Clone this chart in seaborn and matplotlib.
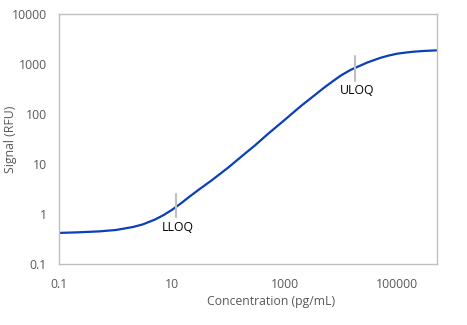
import matplotlib
matplotlib.use("Agg")
import matplotlib.pyplot as plt
import matplotlib.ticker as mticker
import seaborn as sns
import pandas as pd

# Data
concentration = [0.1, 0.2, 0.5, 1, 2, 3, 5, 7, 10, 15, 20, 30, 50, 70, 100, 150, 200, 300,
                 500, 700, 1000, 1500, 2000, 3000, 5000, 7000, 10000, 15000, 20000, 30000,
                 50000, 70000, 100000, 150000, 200000, 300000, 500000]
signal = [0.42, 0.43, 0.45, 0.48, 0.55, 0.62, 0.78, 0.95, 1.22, 1.7, 2.2, 3.1, 4.7, 6.3,
          8.6, 12.6, 16.5, 24, 40, 55, 77, 114, 150, 215, 340, 450, 600, 780, 900, 1100,
          1350, 1500, 1640, 1740, 1800, 1860, 1910]

loq_labels = ["LLOQ", "ULOQ"]
loq_x = [11.6, 17700]
loq_y_low = [0.88, 474]
loq_y_high = [2.57, 1480]

x_ticks = [0.1, 10, 1000, 100000]
y_ticks = [0.1, 1, 10, 100, 1000, 10000]

sns.set_theme(style="white")
plt.rcParams['font.family'] = ['Open Sans', 'DejaVu Sans']

df = pd.DataFrame({"Concentration": concentration, "Signal": signal})

fig = plt.figure(figsize=(4.67, 3.25), dpi=100)
ax = fig.add_axes([0.1274, 0.1877, 0.9347 - 0.1274, 0.9554 - 0.1877])

sns.lineplot(data=df, x="Concentration", y="Signal", ax=ax, color="#0B3FB8", linewidth=1.6)

ax.set_xscale("log")
ax.set_yscale("log")
ax.set_xlim(0.1, 500000)
ax.set_ylim(0.1, 10000)

# LLOQ / ULOQ markers
for lab, xv, ylo, yhi in zip(loq_labels, loq_x, loq_y_low, loq_y_high):
    ax.plot([xv, xv], [ylo, yhi], color="#BFBFBF", linewidth=1.5, zorder=3)
    ax.text(xv * 1.08, ylo * 0.84, lab, ha="center", va="top", fontsize=8.8, color="black")

ax.xaxis.set_major_locator(mticker.FixedLocator(x_ticks))
ax.yaxis.set_major_locator(mticker.FixedLocator(y_ticks))
ax.xaxis.set_minor_locator(mticker.NullLocator())
ax.yaxis.set_minor_locator(mticker.NullLocator())
fmt = mticker.FuncFormatter(lambda v, p: "%g" % v)
ax.xaxis.set_major_formatter(fmt)
ax.yaxis.set_major_formatter(fmt)

for s in ax.spines.values():
    s.set_color("#BFBFBF")
    s.set_linewidth(1.0)

ax.tick_params(axis="both", which="major", direction="out", length=4, width=0.8,
               color="#BFBFBF", labelcolor="#595959", labelsize=8.8)
ax.tick_params(axis="y", pad=5)
ax.tick_params(axis="x", pad=6)
ax.grid(False)

ax.set_xlabel("Concentration (pg/mL)", fontsize=8.8, color="#595959")
ax.set_ylabel("Signal (RFU)", fontsize=8.8, color="#595959")
ax.xaxis.set_label_coords(0.56, -0.125)
ax.yaxis.set_label_coords(-0.112, 0.5)

fig.savefig("out.png", dpi=100)
